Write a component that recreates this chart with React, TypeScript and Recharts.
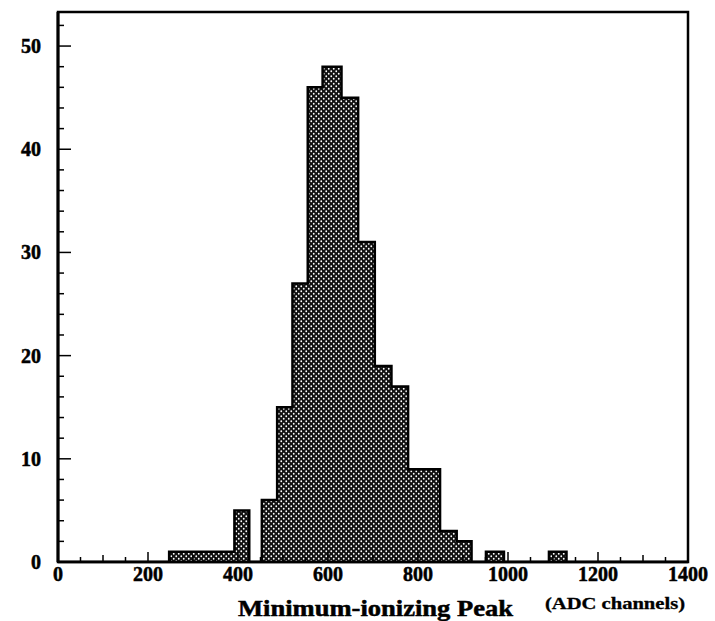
import { Area, ComposedChart, ReferenceArea, XAxis, YAxis } from "recharts"

// histogram bin lower edges (ADC channels) and counts
const binEdges = [0, 247, 283, 320, 356, 392, 425, 453, 487, 521, 555, 588, 630, 667, 704, 741, 778, 813, 849, 886, 919, 951, 991, 1091, 1130, 1400]
const binCounts = [0, 1, 1, 1, 1, 5, 0, 6, 15, 27, 46, 48, 45, 31, 19, 17, 9, 9, 3, 2, 0, 1, 0, 1, 0, 0]

const xTicks = Array.from({ length: 29 }, (_, i) => i * 50)
const yTicks = Array.from({ length: 27 }, (_, i) => i * 2)
const xMax = 1400
const yMax = 53.3

const xTitle = "Minimum-ionizing Peak"
const xUnit = "(ADC channels)"

const data = binEdges.map((x, i) => ({ x, n: binCounts[i] }))

const W = 715
const H = 621
const PLOT_LEFT = 58
const PLOT_RIGHT = 688
const PLOT_TOP = 12
const PLOT_BOTTOM = 562
const FONT = "'Liberation Serif', 'DejaVu Serif', serif"

// drop the default body margin so the chart sits at the page origin
if (typeof document !== "undefined") {
  document.body.style.margin = "0"
}

function XTick(props: any) {
  const { x, payload } = props
  const v = payload.value as number
  const major = v % 200 === 0
  const len = major ? 10 : v % 100 === 0 ? 7 : 5
  return (
    <g>
      <line x1={x} x2={x} y1={PLOT_BOTTOM} y2={PLOT_BOTTOM - len} stroke="#000" strokeWidth={1.5} />
      {major && (
        <text
          x={x}
          y={581}
          textAnchor="middle"
          fontFamily={FONT}
          fontWeight="bold"
          fontSize={20}
          fill="#000"
          stroke="#000"
          strokeWidth={0.5}
        >
          {v}
        </text>
      )}
    </g>
  )
}

function YTick(props: any) {
  const { y, payload } = props
  const v = payload.value as number
  const major = v % 10 === 0
  const len = major ? 13 : 6
  return (
    <g>
      <line x1={PLOT_LEFT} x2={PLOT_LEFT + len} y1={y} y2={y} stroke="#000" strokeWidth={1.5} />
      {major && (
        <text
          x={41}
          y={y + 7}
          textAnchor="end"
          fontFamily={FONT}
          fontWeight="bold"
          fontSize={20}
          fill="#000"
          stroke="#000"
          strokeWidth={0.5}
        >
          {v}
        </text>
      )}
    </g>
  )
}

export default function App() {
  return (
    <div style={{ width: W, height: H, background: "#fff", position: "relative" }}>
      <ComposedChart
        width={W}
        height={H}
        data={data}
        margin={{ top: PLOT_TOP, right: W - PLOT_RIGHT, bottom: 0, left: 0 }}
      >
        <defs>
          <pattern id="hatch" width={5} height={5} patternUnits="userSpaceOnUse">
            <rect width={5} height={5} fill="#111" />
            <circle cx={1.25} cy={1.25} r={0.9} fill="#fff" />
            <circle cx={3.75} cy={3.75} r={0.9} fill="#fff" />
          </pattern>
        </defs>
        <XAxis
          dataKey="x"
          type="number"
          domain={[0, xMax]}
          ticks={xTicks}
          interval={0}
          height={H - PLOT_BOTTOM}
          tickLine={false}
          axisLine={{ stroke: "#000", strokeWidth: 2.5 }}
          tick={<XTick />}
          allowDataOverflow
        />
        <YAxis
          type="number"
          domain={[0, yMax]}
          ticks={yTicks}
          interval={0}
          width={PLOT_LEFT}
          tickLine={false}
          axisLine={{ stroke: "#000", strokeWidth: 3 }}
          tick={<YTick />}
          allowDataOverflow
        />
        <ReferenceArea x1={0} x2={xMax} y1={0} y2={yMax} fill="none" stroke="#000" strokeWidth={2.5} ifOverflow="visible" />
        <Area
          type="stepAfter"
          dataKey="n"
          stroke="#000"
          strokeWidth={2.5}
          fill="url(#hatch)"
          fillOpacity={1}
          isAnimationActive={false}
          dot={false}
          activeDot={false}
        />
      </ComposedChart>
      {/* axis title, drawn over the chart */}
      <svg width={W} height={H} style={{ position: "absolute", left: 0, top: 0, pointerEvents: "none" }}>
        <text
          x={238}
          y={616}
          textLength={275}
          lengthAdjust="spacingAndGlyphs"
          fontFamily={FONT}
          fontWeight="bold"
          fontSize={23}
          fill="#000"
          stroke="#000"
          strokeWidth={0.5}
        >
          {xTitle}
        </text>
        <text
          x={545}
          y={609}
          textLength={140}
          lengthAdjust="spacingAndGlyphs"
          fontFamily={FONT}
          fontWeight="bold"
          fontSize={16}
          fill="#000"
          stroke="#000"
          strokeWidth={0.3}
        >
          {xUnit}
        </text>
      </svg>
    </div>
  )
}
